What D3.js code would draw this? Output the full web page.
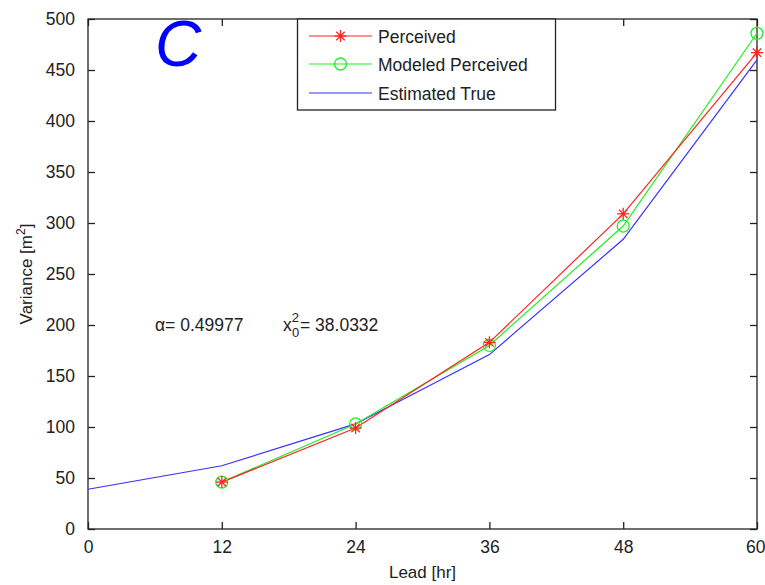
<!DOCTYPE html>
<html><head><meta charset="utf-8">
<script src="https://cdn.jsdelivr.net/npm/d3@7/dist/d3.min.js"></script>
<style>body{margin:0;background:#fff}svg{display:block}text{font-family:"Liberation Sans",Arial,sans-serif}</style>
</head><body>
<script>
const leadHours = [12, 24, 36, 48, 60];
const perceived = [46, 99, 183, 309, 467];
const modeledPerceived = [46, 103, 180, 297, 486];
const trueLead = [0, 12, 24, 36, 48, 60];
const estimatedTrue = [39, 62, 103, 171, 284, 460];
const xTicks = [0, 12, 24, 36, 48, 60];
const yTicks = [0, 50, 100, 150, 200, 250, 300, 350, 400, 450, 500];
const legendLabels = ["Perceived", "Modeled Perceived", "Estimated True"];

const W = 765, H = 585;
const L = 88, R = 757, T = 19, B = 529;
const svg = d3.select("body").append("svg").attr("width", W).attr("height", H);
const x = d3.scaleLinear().domain([0, 60]).range([L, R]);
const y = d3.scaleLinear().domain([0, 500]).range([B, T]);
const axisColor = "#222";
const fs = 17.5;

svg.append("rect").attr("x", L).attr("y", T).attr("width", R - L).attr("height", B - T)
  .attr("fill", "#fff").attr("stroke", axisColor).attr("stroke-width", 1.3);

function styleAxis(g, showLabels) {
  g.select(".domain").remove();
  g.selectAll(".tick line").attr("stroke", axisColor).attr("stroke-width", 1.3);
  g.selectAll(".tick text").attr("fill", "#222").style("font-size", fs + "px")
    .style("font-family", "'Liberation Sans',Arial,sans-serif");
  if (!showLabels) g.selectAll(".tick text").remove();
}
const xb = svg.append("g").attr("transform", `translate(0,${B})`)
  .call(d3.axisBottom(x).tickValues(xTicks).tickSize(-7).tickPadding(12).tickFormat(d3.format("d")));
styleAxis(xb, true);
xb.selectAll(".tick text").filter(d => d === 60).attr("text-anchor", "end").attr("dx", 8);
const xt = svg.append("g").attr("transform", `translate(0,${T})`)
  .call(d3.axisTop(x).tickValues(xTicks).tickSize(-7));
styleAxis(xt, false);
const yl = svg.append("g").attr("transform", `translate(${L},0)`)
  .call(d3.axisLeft(y).tickValues(yTicks).tickSize(-7).tickPadding(13).tickFormat(d3.format("d")));
styleAxis(yl, true);
const yr = svg.append("g").attr("transform", `translate(${R},0)`)
  .call(d3.axisRight(y).tickValues(yTicks).tickSize(-7));
styleAxis(yr, false);

svg.append("text").attr("x", (L + R) / 2).attr("y", 578).attr("text-anchor", "middle")
  .style("font-size", "17px").attr("fill", "#222").text("Lead [hr]");
const yLab = svg.append("text").attr("transform", `translate(32,${(T + B) / 2}) rotate(-90)`)
  .attr("text-anchor", "middle").style("font-size", "17px").attr("fill", "#222");
yLab.append("tspan").text("Variance [m");
yLab.append("tspan").attr("dy", -7).style("font-size", "12px").text("2");
yLab.append("tspan").attr("dy", 7).text("]");

const line = d3.line().x(d => x(d[0])).y(d => y(d[1]));

const blueData = d3.zip(trueLead, estimatedTrue);
const redData = d3.zip(leadHours, perceived);
const greenData = d3.zip(leadHours, modeledPerceived);
const plot = svg.append("g");
plot.append("path").datum(blueData).attr("d", line).attr("fill", "none").attr("stroke", "#3333ff").attr("stroke-width", 1.2);
plot.append("path").datum(greenData).attr("d", line).attr("fill", "none").attr("stroke", "#22ee22").attr("stroke-width", 1.2);
plot.append("path").datum(redData).attr("d", line).attr("fill", "none").attr("stroke", "#ff2222").attr("stroke-width", 1.2);

function star(g, cx, cy, s, color) {
  const a = [[-s, 0, s, 0], [0, -s, 0, s], [-s * 0.7, -s * 0.7, s * 0.7, s * 0.7], [-s * 0.7, s * 0.7, s * 0.7, -s * 0.7]];
  a.forEach(p => g.append("line").attr("x1", cx + p[0]).attr("y1", cy + p[1]).attr("x2", cx + p[2]).attr("y2", cy + p[3])
    .attr("stroke", color).attr("stroke-width", 1.3));
}
greenData.forEach(d => plot.append("circle").attr("cx", x(d[0])).attr("cy", y(d[1])).attr("r", 6)
  .attr("fill", "none").attr("stroke", "#22ee22").attr("stroke-width", 1.3));
redData.forEach(d => star(plot, x(d[0]), y(d[1]), 6, "#ff2222"));

const lg = svg.append("g");
lg.append("rect").attr("x", 297.5).attr("y", T).attr("width", 258).attr("height", 91)
  .attr("fill", "#fff").attr("stroke", axisColor).attr("stroke-width", 1.3);
const rows = [36, 64, 93];
const colors = ["#ff2222", "#22ee22", "#3333ff"];
legendLabels.forEach((lab, i) => {
  lg.append("line").attr("x1", 309).attr("x2", 372).attr("y1", rows[i]).attr("y2", rows[i])
    .attr("stroke", colors[i]).attr("stroke-width", 1.2);
  if (i === 0) star(lg, 340.5, rows[i], 6, colors[i]);
  if (i === 1) lg.append("circle").attr("cx", 340.5).attr("cy", rows[i]).attr("r", 6).attr("fill", "none")
    .attr("stroke", colors[i]).attr("stroke-width", 1.3);
  lg.append("text").attr("x", 378).attr("y", rows[i] + 6.5).style("font-size", fs + "px").attr("fill", "#222").text(lab);
});

svg.append("text").attr("x", 155).attr("y", 66).style("font-size", "64px").style("font-style", "italic")
  .attr("fill", "#0000ff").text("C");

const ann = svg.append("text").attr("x", 155).attr("y", 331).style("font-size", fs + "px").attr("fill", "#222");
ann.append("tspan").text("\u03b1= 0.49977");
ann.append("tspan").attr("x", 283).text("x");
ann.append("tspan").attr("dy", -9).style("font-size", "13px").text("2");
ann.append("tspan").attr("x", 292).attr("dy", 15).style("font-size", "13px").text("0");
ann.append("tspan").attr("x", 300).attr("dy", -6).text("= 38.0332");
</script>
</body></html>
